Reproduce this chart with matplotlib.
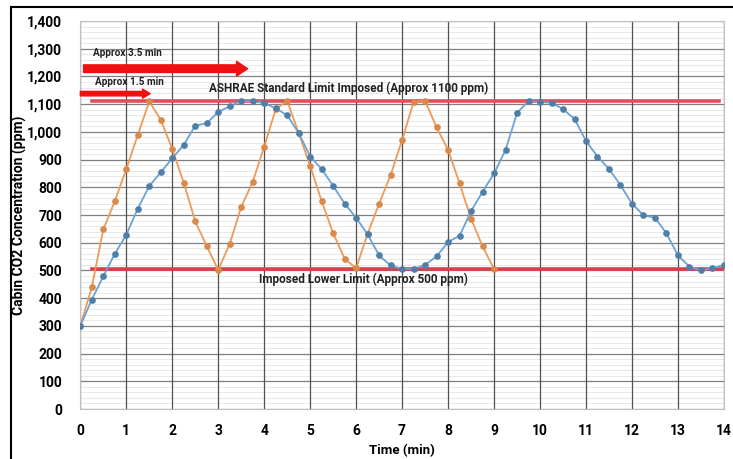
"""Cabin CO2 concentration vs time, two ventilation strategies"""

import numpy as np
import matplotlib
matplotlib.use("Agg")
import matplotlib.pyplot as plt
from matplotlib.lines import Line2D
from matplotlib.ticker import MultipleLocator, FuncFormatter

# Orange series: short cycle (approx 1.5 min)
orange_time = [0.0, 0.25, 0.5, 0.75, 1.0, 1.25, 1.5, 1.75, 2.0, 2.25, 2.5, 2.75,
               3.0, 3.25, 3.5, 3.75, 4.0, 4.25, 4.5, 4.75, 5.0, 5.25, 5.5, 5.75,
               6.0, 6.25, 6.5, 6.75, 7.0, 7.25, 7.5, 7.75, 8.0, 8.25, 8.5, 8.75, 9.0]
orange_co2 = [300, 440, 648, 750, 866, 989, 1110, 1043, 938, 816, 677, 588,
              502, 596, 729, 820, 947, 1082, 1112, 996, 877, 750, 634, 542,
              508, 633, 741, 844, 971, 1108, 1112, 1016, 935, 814, 686, 587, 505]

# Blue series: long cycle (approx 3.5 min)
blue_time = [0.0, 0.25, 0.5, 0.75, 1.0, 1.25, 1.5, 1.75, 2.0, 2.25, 2.5, 2.75,
             3.0, 3.25, 3.5, 3.75, 4.0, 4.25, 4.5, 4.75, 5.0, 5.25, 5.5, 5.75,
             6.0, 6.25, 6.5, 6.75, 7.0, 7.25, 7.5, 7.75, 8.0, 8.25, 8.5, 8.75,
             9.0, 9.25, 9.5, 9.75, 10.0, 10.25, 10.5, 10.75, 11.0, 11.25, 11.5,
             11.75, 12.0, 12.25, 12.5, 12.75, 13.0, 13.25, 13.5, 13.75, 14.0]
blue_co2 = [300, 395, 479, 560, 629, 723, 805, 854, 905, 953, 1023, 1031,
            1072, 1092, 1112, 1110, 1104, 1085, 1060, 996, 911, 866, 805, 741,
            690, 630, 554, 518, 506, 506, 520, 551, 603, 625, 714, 784,
            850, 935, 1068, 1112, 1108, 1105, 1082, 1047, 967, 911, 866,
            808, 741, 699, 690, 634, 554, 514, 500, 508, 520]

# Limits and annotations
upper_limit = 1110
lower_limit = 507
upper_span = (0.25, 13.9)
lower_span = (0.25, 14.0)
arrow_long = (0.07, 3.64, 1228)   # start, end, level
arrow_short = (0.0, 1.52, 1138)

FONT = ["Roboto", "DejaVu Sans"]
plt.rcParams["font.family"] = FONT
plt.rcParams["font.weight"] = "bold"

fig = plt.figure(figsize=(7.33, 4.59), dpi=100)
ax = fig.add_axes([0.1096, 0.1089, 0.8780, 0.8453])

ax.set_xlim(0, 14)
ax.set_ylim(0, 1400)
ax.xaxis.set_major_locator(MultipleLocator(1))
ax.yaxis.set_major_locator(MultipleLocator(100))
ax.yaxis.set_minor_locator(MultipleLocator(20))
ax.yaxis.set_major_formatter(FuncFormatter(lambda v, p: "{:,.0f}".format(v)))

ax.grid(True, which="major", axis="x", color="#505050", linewidth=0.9)
ax.grid(True, which="major", axis="y", color="#808080", linewidth=0.9)
ax.grid(True, which="minor", axis="y", color="#e4e4e4", linewidth=0.6)
ax.set_axisbelow(True)
# vertical gridlines on top of the horizontal ones
ax.xaxis.set_zorder(0.6)
for s in ax.spines.values():
    s.set_color("#c0c0c0")
    s.set_linewidth(0.8)
ax.tick_params(which="both", length=0)
ax.tick_params(axis="y", pad=13, labelsize=10)
ax.tick_params(axis="x", pad=11, labelsize=10)
for lab in ax.get_xticklabels() + ax.get_yticklabels():
    lab.set_fontweight("bold")

# limit lines
ax.plot(upper_span, [upper_limit, upper_limit], color="#e0505c", linewidth=2.6, zorder=2)
ax.plot(lower_span, [lower_limit, lower_limit], color="#d8404c", linewidth=2.6, zorder=2)

# series
ax.plot(orange_time, orange_co2, color="#ed9a5a", linewidth=1.3, marker="o",
        markersize=3.8, markerfacecolor="#d98a4a", markeredgecolor="#d98a4a", zorder=3)
ax.plot(blue_time, blue_co2, color="#6ba3d6", linewidth=1.3, marker="o",
        markersize=3.8, markerfacecolor="#4f7fa8", markeredgecolor="#4f7fa8", zorder=3)

# arrows
ax.annotate("", xy=(arrow_long[1], arrow_long[2]), xytext=(arrow_long[0], arrow_long[2]),
            arrowprops=dict(arrowstyle="simple,tail_width=0.55,head_width=1.05,head_length=0.8",
                            color="#ee1111", shrinkA=0, shrinkB=0, mutation_scale=10),
            zorder=4)
ax.annotate("", xy=(arrow_short[1], arrow_short[2]), xytext=(arrow_short[0], arrow_short[2]),
            arrowprops=dict(arrowstyle="simple,tail_width=0.32,head_width=0.65,head_length=0.55",
                            color="#ee1111", shrinkA=0, shrinkB=0, mutation_scale=10),
            zorder=4)

txt = dict(fontweight="bold", color="#222222", zorder=5)
ax.text(0.28, 1283, "Approx 3.5 min", ha="left", va="center", fontsize=7.2, **txt)
ax.text(0.32, 1180, "Approx 1.5 min", ha="left", va="center", fontsize=7.2, **txt)
ax.text(5.83, 1158, "ASHRAE Standard Limit Imposed (Approx 1100 ppm)", ha="center",
        va="center", fontsize=8.5, **txt)
ax.text(6.16, 469, "Imposed Lower Limit (Approx 500 ppm)", ha="center", va="center",
        fontsize=8.5, **txt)

ax.set_xlabel("Time (min)", fontsize=9.5, fontweight="bold", labelpad=4)
ax.set_ylabel("Cabin CO2 Concentration (ppm)", fontsize=10, fontweight="bold",
              va="center")
ax.yaxis.set_label_coords(-0.095, 0.5)

# outer frame (left and top edges visible in the original crop)
fig.add_artist(Line2D([11 / 733, 11 / 733], [0, 1 - 7 / 459], color="black", linewidth=1.5))
fig.add_artist(Line2D([11 / 733, 1], [1 - 7 / 459, 1 - 7 / 459], color="black", linewidth=1.5))

fig.savefig("out.png", dpi=100)
plt.close(fig)
